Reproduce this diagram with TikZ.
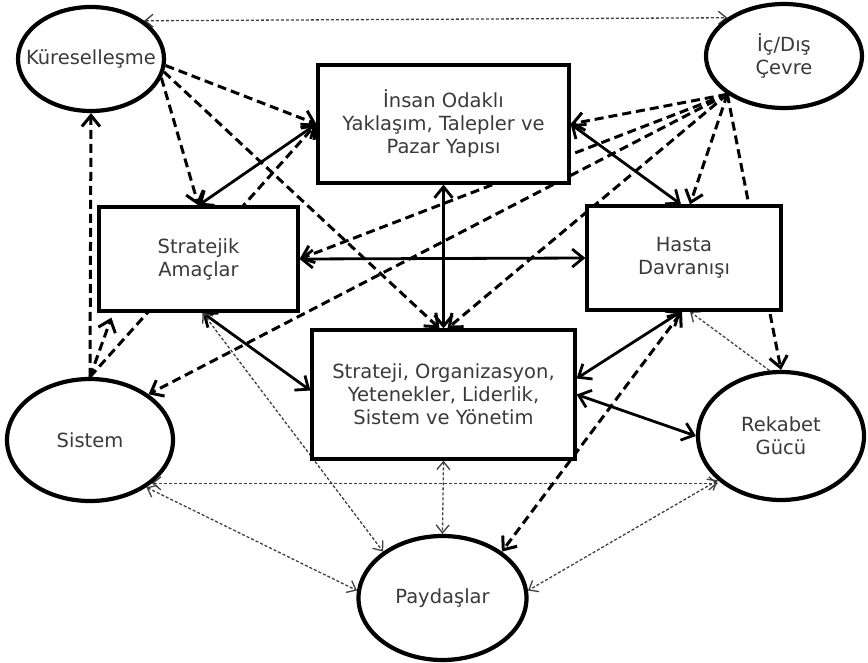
\documentclass[tikz,border=0pt]{standalone}
\usepackage{fontspec}
\setmainfont{DejaVu Sans}
\usetikzlibrary{shapes.geometric,arrows.meta}
\pgfdeclarelayer{bg}
\pgfsetlayers{bg,main}
\definecolor{txtc}{HTML}{3A3A3A}
\begin{document}
\begin{tikzpicture}[x=1pt,y=-1pt,
  txt/.style={font=\fontsize{19.5}{23}\selectfont, text=txtc, align=center},
  ell/.style={ellipse, draw, line width=4.2pt, fill=white, inner sep=0pt},
  box/.style={rectangle, draw, line width=3.2pt, fill=white, inner sep=0pt, txt},
  bigtip/.tip={Straight Barb[length=11pt,width=18pt]},
  smalltip/.tip={Straight Barb[length=8pt,width=13pt]},
  solidboth/.style={line width=2.8pt, bigtip-bigtip},
  dasharr/.style={line width=3pt, dash pattern=on 9pt off 5pt, -bigtip},
  dashboth/.style={line width=3pt, dash pattern=on 9pt off 5pt, bigtip-bigtip},
  thinboth/.style={line width=1.3pt, draw=black!75, dash pattern=on 3pt off 2pt, smalltip-smalltip},
  thinarr/.style={line width=1.3pt, draw=black!75, dash pattern=on 3pt off 2pt, -smalltip}
]
\useasboundingbox (0,0) rectangle (868,662);

% ellipses
\node[ell, minimum width=146pt, minimum height=104pt, label={[txt]center:Küreselleşme}] (kur) at (91,59) {};
\node[ell, minimum width=156pt, minimum height=104pt, label={[txt]center:İç/Dış\\Çevre}] (ic) at (784,56) {};
\node[ell, minimum width=166pt, minimum height=122pt, label={[txt]center:Sistem}] (sis) at (90,440) {};
\node[ell, minimum width=166pt, minimum height=128pt, label={[txt]center:Rekabet\\Gücü}] (rek) at (781,436) {};
\node[ell, minimum width=168pt, minimum height=124pt, label={[txt]center:Paydaşlar}] (pay) at (442.5,598) {};

% boxes
\node[box, minimum width=251pt, minimum height=118pt] (insan) at (443.5,124) {İnsan Odaklı\\Yaklaşım, Talepler ve\\Pazar Yapısı};
\node[box, minimum width=199pt, minimum height=104pt] (strat) at (198.5,259) {Stratejik\\Amaçlar};
\node[box, minimum width=194pt, minimum height=104pt] (hasta) at (684,258) {Hasta\\Davranışı};
\node[box, minimum width=263pt, minimum height=129pt] (org) at (443.5,394.5) {Strateji, Organizasyon,\\Yetenekler, Liderlik,\\Sistem ve Yönetim};

\begin{pgfonlayer}{bg}
\draw[thinboth] (kur.north east) -- (ic.north west);
\draw[dasharr] (kur.-5) -- (insan.west);
\draw[dasharr] (kur.-15) -- (strat.north);
\draw[dasharr] (kur.-10) -- ([xshift=-4pt]org.north);
\draw[solidboth] (strat.north) -- (insan.west);
\draw[dasharr] (sis.north) -- (insan.west);
\draw[dasharr] (sis.north) -- ([xshift=14pt,yshift=-5pt]strat.south west);
\draw[dasharr] (sis.north) -- (kur.south);
\draw[dasharr] (ic.south west) -- (insan.east);
\draw[dasharr] (ic.south west) -- (strat.east);
\draw[dasharr] (ic.south west) -- (sis.38);
\draw[dasharr] (ic.south west) -- ([xshift=4pt]org.north);
\draw[dasharr] (ic.south west) -- ([xshift=6pt]hasta.north);
\draw[dasharr] (ic.south west) -- (rek.north);
\draw[solidboth] (insan.east) -- ([xshift=-3pt]hasta.north);
\draw[solidboth] (insan.south) -- (org.north);
\draw[solidboth] (strat.east) -- (hasta.west);
\draw[solidboth] ([xshift=4pt]strat.south) -- ([yshift=4pt]org.west);
\draw[thinboth] ([xshift=4pt]strat.south) -- (pay.142);
\draw[solidboth] ([yshift=16pt]org.east) -- ([xshift=-3pt]hasta.south);
\draw[solidboth] (org.east) -- (rek.west);
\draw[thinboth] (org.south) -- (pay.north);
\draw[thinboth] (sis.-35) -- (sis.-35 -| rek.-145);
\draw[thinboth] (sis.-40) -- (pay.175);
\draw[thinboth] (rek.-145) -- (pay.5);
\draw[thinarr] (rek.100) -- ([xshift=6pt]hasta.south);
\draw[dashboth] ([xshift=-2pt]hasta.south) -- (pay.38);
\end{pgfonlayer}
\end{tikzpicture}
\end{document}
